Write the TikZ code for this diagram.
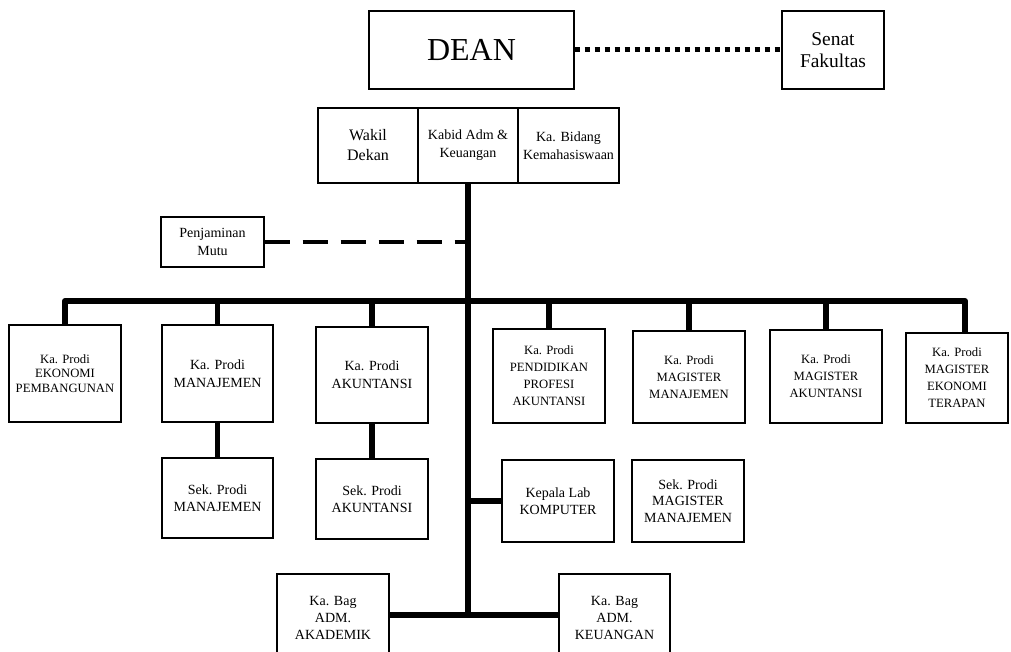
\documentclass[tikz,border=0pt]{standalone}
\usepackage{fontspec}
\setmainfont{Liberation Serif}
\newcommand{\fs}[2]{\fontsize{#1}{#2}\selectfont}
\begin{document}
\begin{tikzpicture}[x=0.75pt,y=-0.75pt,
  box/.style={draw, line width=1pt, align=center, inner sep=0pt, font={\fs{10.5}{12.5}}},
  sz/.style 2 args={minimum width=#1*0.75pt, minimum height=#2*0.75pt},
  link/.style={line width=4.4pt},
  trunkline/.style={line width=5.2pt},
  dotline/.style={line width=3.75pt, dash pattern=on 3.75pt off 3.75pt},
  dashline/.style={line width=3.6pt, dash pattern=on 19pt off 9.5pt}]
\path[use as bounding box, clip] (0,0) rectangle (1011,652);
\fill[white] (0,0) rectangle (1011,652);

% top
\node[box, sz={205}{78}, font={\fs{24}{28}}] (dean) at (471.5,50) {DEAN};
\node[box, sz={102}{78}, font={\fs{14.6}{16.5}}] (senat) at (833,50) {Senat\\Fakultas};
\node[box, sz={100}{75}, font={\fs{12}{15}}] (wakil) at (368,145.5) {Wakil\\Dekan};
\node[box, sz={100}{75}, font={\fs{10.5}{13.5}}] (kabid) at (468,145.5) {Kabid Adm \&\\Keuangan};
\node[box, sz={101}{75}, font={\fs{10.5}{13.5}}] (kabidang) at (568.5,145.5) {Ka. Bidang\\Kemahasiswaan};
\node[box, sz={103}{50}, font={\fs{10.5}{13.5}}] (pm) at (212.5,242) {Penjaminan\\Mutu};

% prodi row
\node[box, sz={112}{97}, font={\fs{9.5}{11}}] (ekon) at (65,373.5) {Ka. Prodi\\EKONOMI\\PEMBANGUNAN};
\node[box, sz={111}{97}, font={\fs{10.5}{13.5}}] (man) at (217.5,373.5) {Ka. Prodi\\MANAJEMEN};
\node[box, sz={112}{96}, font={\fs{10.5}{13.5}}] (akun) at (372,375) {Ka. Prodi\\AKUNTANSI};
\node[box, sz={112}{94}, font={\fs{9.5}{12.7}}] (pend) at (549,376) {Ka. Prodi\\PENDIDIKAN\\PROFESI\\AKUNTANSI};
\node[box, sz={112}{92}, font={\fs{9.5}{12.7}}] (magman) at (689,377) {Ka. Prodi\\MAGISTER\\MANAJEMEN};
\node[box, sz={112}{93}, font={\fs{9.5}{12.7}}] (magak) at (826,376.5) {Ka. Prodi\\MAGISTER\\AKUNTANSI};
\node[box, sz={102}{90}, font={\fs{9.5}{12.7}}] (magek) at (957,378) {Ka. Prodi\\MAGISTER\\EKONOMI\\TERAPAN};

% second row
\node[box, sz={111}{80}] (sekman) at (217.5,498) {Sek. Prodi\\MANAJEMEN};
\node[box, sz={112}{80}] (sekak) at (372,499) {Sek. Prodi\\AKUNTANSI};
\node[box, sz={112}{82}] (lab) at (558,501) {Kepala Lab\\KOMPUTER};
\node[box, sz={112}{82}] (sekmag) at (688,501) {Sek. Prodi\\MAGISTER\\MANAJEMEN};

% bottom
\node[box, sz={112}{88}] (bagak) at (333,618) {Ka. Bag\\ADM.\\AKADEMIK};
\node[box, sz={111}{88}] (bagkeu) at (614.5,618) {Ka. Bag\\ADM.\\KEUANGAN};

% coordinates
\coordinate (busR) at (965,301);
\coordinate (kb) at (468,615);

% connectors
\draw[dotline] (dean.east) -- (senat.west);
\draw[trunkline] (kabid.south) -- (kb);
\draw[dashline] (pm.east) -- (pm.east -| kabid.south);
\draw[link, line join=round] (ekon.north) |- (busR) -- (busR |- magek.north);
\foreach \n in {man,akun,pend,magman,magak}
  \draw[link] (\n.north) -- (\n.north |- busR);
\draw[link] (man.south) -- (sekman.north);
\draw[link] (akun.south) -- (sekak.north);
\draw[link] (lab.west) -- (lab.west -| kb);
\draw[link] (bagak.east |- kb) -- (bagkeu.west |- kb);
\end{tikzpicture}
\end{document}
